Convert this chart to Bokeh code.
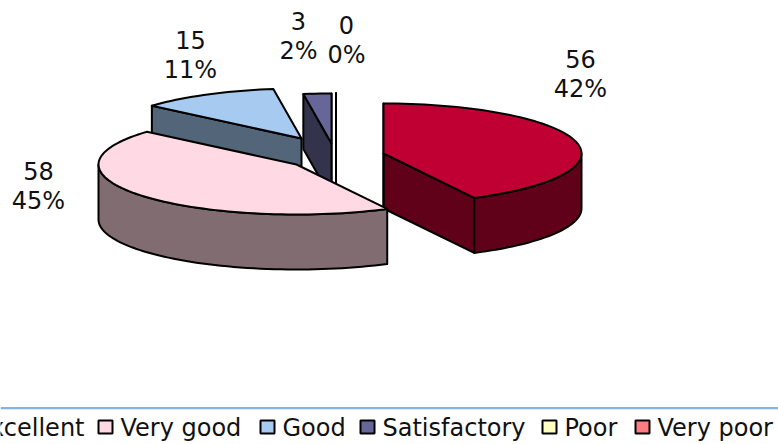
import math
from bokeh.plotting import figure
from bokeh.models import ColumnDataSource
from bokeh.core.properties import value
from bokeh.embed import file_html
from bokeh.resources import INLINE

categories = ["Excellent", "Very good", "Good", "Satisfactory", "Poor", "Very poor"]
counts = [56, 58, 15, 3, 0, 0]
percents = ["42%", "45%", "11%", "2%", "0%"]

top_colors = ["#C00033", "#FFD9E3", "#A6CAF0", "#666699", "#FFFFC0", "#FF7C80"]
wall_colors = ["#600019", "#806C71", "#536578", "#33334C", "#808060", "#803E40"]

A, B, DEPTH = 198.0, 50.0, 55.0
centers = [(383, 153), (296, 164), (301, 138), (331, 143), (335.5, 143), (335.5, 143)]
label_pos = [(580, 73.5), (38, 185), (190, 54.5), (298, 35), (346, 39)]
legend_swatch_x = [-50, 98, 260, 360, 542, 635]
legend_text_x = [84, 120, 282, 382, 564, 657]

total = sum(counts)
starts, acc = [], 0.0
for c in counts:
    starts.append(acc)
    acc += c / total * 360.0


def pt(c, deg, dz=0.0):
    r = math.radians(deg)
    return c[0] + A * math.sin(r), c[1] - B * math.cos(r) + dz


def arc(c, d0, d1, dz=0.0):
    n = max(2, int(abs(d1 - d0) / 2) + 2)
    return [pt(c, d0 + (d1 - d0) * i / (n - 1), dz) for i in range(n)]


def poly(points):
    return [q[0] for q in points], [q[1] for q in points]


xs, ys, fills = [], [], []


def add(points, color):
    x, y = poly(points)
    xs.append(x)
    ys.append(y)
    fills.append(color)


for i in [2, 3, 4, 5, 0, 1]:
    c = centers[i]
    s = starts[i]
    e = s + counts[i] / total * 360.0
    low = (c[0], c[1] + DEPTH)
    sr, er = math.radians(s), math.radians(e)
    if math.sin(er) >= -1e-9:
        add([c, pt(c, e), pt(c, e, DEPTH), low], wall_colors[i])
    if -math.sin(sr) >= -1e-9:
        add([c, pt(c, s), pt(c, s, DEPTH), low], wall_colors[i])
    a0, a1 = max(s, 90.0), min(e, 270.0)
    if a1 > a0:
        add(arc(c, a0, a1) + arc(c, a1, a0, DEPTH), wall_colors[i])
    add([c] + arc(c, s, e), top_colors[i])

p = figure(width=778, height=444, x_range=(0, 778), y_range=(444, 0),
           toolbar_location=None, output_backend="svg", min_border=0,
           outline_line_color=None)
p.axis.visible = False
p.grid.visible = False

p.patches("xs", "ys", source=ColumnDataSource(dict(xs=xs, ys=ys, fill=fills)),
          fill_color="fill", line_color="black", line_width=2, line_join="round")

# data labels
lx, ly, lt = [], [], []
for i, pc in enumerate(percents):
    lx += [label_pos[i][0]] * 2
    ly += [label_pos[i][1] - 15, label_pos[i][1] + 15]
    lt += [str(counts[i]), pc]
p.text(lx, ly, text=lt, text_font=value("DejaVu Sans"), text_font_size="24px",
       text_color="#111111", text_align="center", text_baseline="middle")

# legend
p.line([0, 778], [407.5, 407.5], line_color="#5B9BD5", line_width=1.5)
p.line([0, 778], [409, 409], line_color="#DCEBF7", line_width=1)
p.quad(left=legend_swatch_x, right=[v + 14 for v in legend_swatch_x],
       top=[420] * 6, bottom=[433] * 6, fill_color=top_colors,
       line_color="black", line_width=2)
p.text(legend_text_x[:1], [427], text=categories[:1], text_font=value("DejaVu Sans"),
       text_font_size="24px", text_color="#111111", text_align="right", text_baseline="middle")
p.text(legend_text_x[1:], [427] * 5, text=categories[1:], text_font=value("DejaVu Sans"),
       text_font_size="24px", text_color="#111111", text_align="left", text_baseline="middle")

open("out.html", "w").write(file_html(p, INLINE))
